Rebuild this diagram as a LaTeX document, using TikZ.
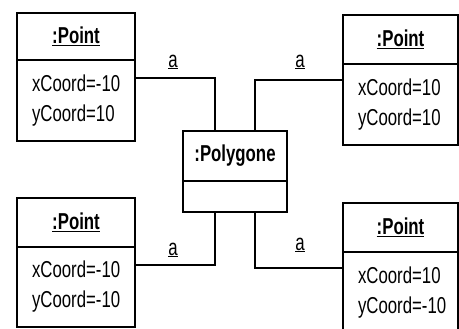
\documentclass[tikz,border=0pt]{standalone}
\usepackage{fontspec}
\setmainfont{Liberation Sans}[FakeStretch=0.73]
\usetikzlibrary{positioning,calc}

\begin{document}
\begin{tikzpicture}[x=1pt, y=-1pt, font=\fontsize{23}{30}\selectfont]
        \useasboundingbox (0,0) rectangle (459,329);
        % objects on the left
        \node[draw, line width=1.2pt, outer sep=0pt, anchor=north west, shape=rectangle, style={minimum width=118pt, minimum height=47pt}] (p1) at (17,13) {\textbf{\underline{:Point}}};
        \node[draw, line width=1.2pt, outer sep=0pt, shape=rectangle, align=left, text width=88pt, inner xsep=15pt, style={minimum height=81pt}] (p1a) [below=0pt of p1] {\mbox{xCoord=-10}\\\mbox{yCoord=10}};
        \node[draw, line width=1.2pt, outer sep=0pt, anchor=north west, shape=rectangle, style={minimum width=118pt, minimum height=49pt}] (p3) at (17,198) {\textbf{\underline{:Point}}};
        \node[draw, line width=1.2pt, outer sep=0pt, shape=rectangle, align=left, text width=88pt, inner xsep=15pt, style={minimum height=80pt}] (p3a) [below=0pt of p3] {\mbox{xCoord=-10}\\\mbox{yCoord=-10}};
        % objects on the right
        \node[draw, line width=1.2pt, outer sep=0pt, anchor=north west, shape=rectangle, style={minimum width=115pt, minimum height=49pt}] (p2) at (343,15) {\textbf{\underline{:Point}}};
        \node[draw, line width=1.2pt, outer sep=0pt, shape=rectangle, align=left, text width=85pt, inner xsep=15pt, style={minimum height=81pt}] (p2a) [below=0pt of p2] {\mbox{xCoord=10}\\\mbox{yCoord=10}};
        \node[draw, line width=1.2pt, outer sep=0pt, anchor=north west, shape=rectangle, style={minimum width=115pt, minimum height=49pt}] (p4) at (343,203) {\textbf{\underline{:Point}}};
        \node[draw, line width=1.2pt, outer sep=0pt, shape=rectangle, align=left, text width=85pt, inner xsep=15pt, style={minimum height=81pt}] (p4a) [below=0pt of p4] {\mbox{xCoord=10}\\\mbox{yCoord=-10}};
        % the polygon
        \node[draw, line width=1.2pt, outer sep=0pt, anchor=north west, shape=rectangle, style={minimum width=104pt, minimum height=50pt}] (poly) at (183,131) {\textbf{:Polygone}};
        \node[draw, line width=1.2pt, outer sep=0pt, shape=rectangle, style={minimum width=104pt, minimum height=31pt}] (polya) [below=0pt of poly] {};
        \draw[line width=1.2pt] ([yshift=22.5pt]p1a.east) -| ([xshift=-20pt]poly.north);
        \draw[line width=1.2pt] ([yshift=24.5pt]p2a.west) -| ([xshift=20pt]poly.north);
        \draw[line width=1.2pt] ([yshift=22pt]p3a.east) -| ([xshift=-20pt]polya.south);
        \draw[line width=1.2pt] ([yshift=24.5pt]p4a.west) -| ([xshift=20pt]polya.south);
        \node (l1) at (173,62) {\underline{a}};
        \node (l2) at (300,62) {\underline{a}};
        \node (l3) at (173,250) {\underline{a}};
        \node (l4) at (300,245) {\underline{a}};
\end{tikzpicture}
\end{document}
